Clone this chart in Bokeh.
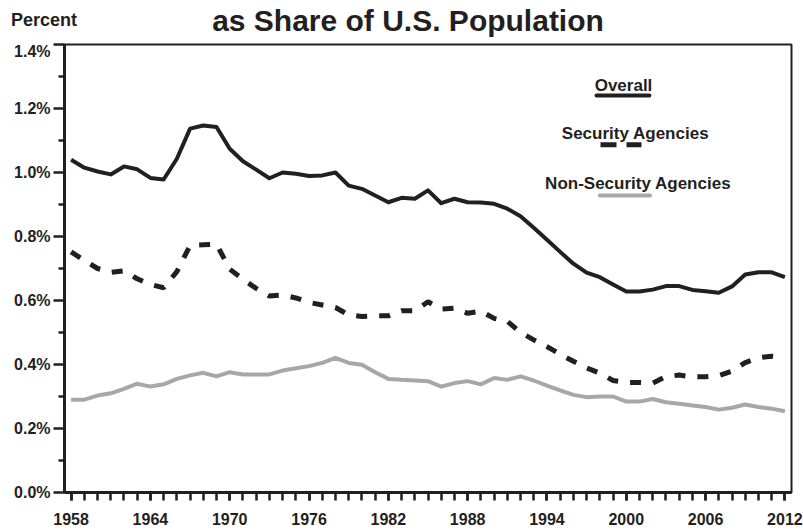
from bokeh.plotting import figure
from bokeh.layouts import column
from bokeh.models import Range1d, FixedTicker, PrintfTickFormatter, Label, Div
from bokeh.embed import file_html
from bokeh.resources import INLINE

# ---------------- data ----------------
years = [1958, 1959, 1960, 1961, 1962, 1963, 1964, 1965, 1966, 1967,
         1968, 1969, 1970, 1971, 1972, 1973, 1974, 1975, 1976, 1977,
         1978, 1979, 1980, 1981, 1982, 1983, 1984, 1985, 1986, 1987,
         1988, 1989, 1990, 1991, 1992, 1993, 1994, 1995, 1996, 1997,
         1998, 1999, 2000, 2001, 2002, 2003, 2004, 2005, 2006, 2007,
         2008, 2009, 2010, 2011, 2012]

overall = [1.040, 1.015, 1.003, 0.994, 1.019, 1.010, 0.983, 0.978, 1.043, 1.137,
           1.147, 1.142, 1.074, 1.035, 1.009, 0.982, 1.000, 0.996, 0.989, 0.991,
           1.000, 0.959, 0.949, 0.928, 0.907, 0.921, 0.918, 0.944, 0.904, 0.918,
           0.907, 0.906, 0.902, 0.887, 0.863, 0.827, 0.790, 0.752, 0.715, 0.687,
           0.673, 0.650, 0.628, 0.628, 0.634, 0.645, 0.645, 0.633, 0.629, 0.624,
           0.644, 0.681, 0.688, 0.688, 0.673]

security = [0.752, 0.725, 0.700, 0.688, 0.693, 0.668, 0.650, 0.640, 0.690, 0.772,
            0.774, 0.776, 0.698, 0.666, 0.638, 0.614, 0.617, 0.608, 0.594, 0.586,
            0.578, 0.555, 0.550, 0.552, 0.552, 0.568, 0.568, 0.596, 0.573, 0.576,
            0.560, 0.567, 0.544, 0.535, 0.500, 0.477, 0.456, 0.432, 0.410, 0.389,
            0.373, 0.350, 0.344, 0.344, 0.342, 0.362, 0.367, 0.361, 0.362, 0.365,
            0.379, 0.406, 0.421, 0.426, 0.419]

non_security = [0.290, 0.290, 0.303, 0.310, 0.324, 0.340, 0.331, 0.338, 0.355, 0.366,
                0.374, 0.363, 0.376, 0.369, 0.369, 0.369, 0.381, 0.388, 0.395, 0.405,
                0.421, 0.405, 0.399, 0.376, 0.355, 0.352, 0.350, 0.348, 0.331, 0.342,
                0.348, 0.338, 0.358, 0.352, 0.363, 0.350, 0.334, 0.319, 0.305, 0.298,
                0.300, 0.300, 0.284, 0.284, 0.292, 0.282, 0.277, 0.272, 0.267, 0.259,
                0.265, 0.275, 0.267, 0.262, 0.254]

x_label_years = [1958, 1964, 1970, 1976, 1982, 1988, 1994, 2000, 2006, 2012]
y_major_ticks = [0.0, 0.2, 0.4, 0.6, 0.8, 1.0, 1.2, 1.4]
y_minor_ticks = [0.1, 0.3, 0.5, 0.7, 0.9, 1.1, 1.3]

series_names = ["Overall", "Security Agencies", "Non-Security Agencies"]
title_text = "as Share of U.S. Population"
y_axis_title = "Percent"

# ---------------- styling ----------------
FONT = "Liberation Sans"
INK = "#231f20"
GREY = "#a7a7a9"

# header strip (chart title + y-axis caption), HTML text
header_html = (
    f'<div style="position:relative;width:803px;height:42px;overflow:hidden;'
    f'font-family:\'{FONT}\',Arial,sans-serif;font-weight:bold;color:{INK};">'
    f'<div style="position:absolute;left:0;top:6px;width:816px;text-align:center;'
    f'font-size:30px;line-height:30px;white-space:nowrap;">{title_text}</div>'
    f'<div style="position:absolute;left:11px;top:11px;font-size:18px;'
    f'line-height:18px;white-space:nowrap;">{y_axis_title}</div>'
    f'</div>'
)
header = Div(text=header_html, width=803, height=42, margin=0)

p = figure(width=803, height=490,
           x_range=Range1d(1957.5, 2012.5), y_range=Range1d(0, 1.4),
           output_backend="svg", toolbar_location=None,
           min_border_left=64, min_border_right=12,
           min_border_top=2, min_border_bottom=40, margin=0)

p.xgrid.visible = False
p.ygrid.visible = False
p.outline_line_color = INK
p.outline_line_width = 2
p.background_fill_color = "white"
p.border_fill_color = "white"

# x axis
xa = p.xaxis[0]
xa.ticker = FixedTicker(ticks=x_label_years, minor_ticks=years)
xa.axis_line_width = 3
xa.axis_line_color = INK
xa.major_tick_in = 0
xa.major_tick_out = 8
xa.minor_tick_in = 0
xa.minor_tick_out = 8
xa.major_tick_line_width = 2.5
xa.minor_tick_line_width = 2.5
xa.major_tick_line_color = INK
xa.minor_tick_line_color = INK
xa.major_label_text_font = FONT
xa.major_label_text_font_style = "bold"
xa.major_label_text_font_size = "16px"
xa.major_label_text_color = INK
xa.major_label_standoff = 12

# y axis
ya = p.yaxis[0]
ya.ticker = FixedTicker(ticks=y_major_ticks, minor_ticks=y_minor_ticks)
ya.formatter = PrintfTickFormatter(format="%.1f%%")
ya.axis_line_width = 3
ya.axis_line_color = INK
ya.major_tick_in = 0
ya.major_tick_out = 11
ya.minor_tick_in = 0
ya.minor_tick_out = 6
ya.major_tick_line_width = 2.5
ya.minor_tick_line_width = 2.5
ya.major_tick_line_color = INK
ya.minor_tick_line_color = INK
ya.major_label_text_font = FONT
ya.major_label_text_font_style = "bold"
ya.major_label_text_font_size = "16px"
ya.major_label_text_color = INK
ya.major_label_standoff = 3

# ---------------- series ----------------
p.line(years, non_security, line_color=GREY, line_width=4, line_join="round")
p.line(years, security, line_color=INK, line_width=5, line_dash="11 12")
p.line(years, overall, line_color=INK, line_width=4, line_join="round")

# ---------------- legend (text above a line sample) ----------------
LEG_FS = "17px"
p.add_layout(Label(x=1999.79, y=1.272, text=series_names[0], text_align="center",
                   text_baseline="alphabetic", text_font=FONT,
                   text_font_style="bold", text_font_size=LEG_FS, text_color=INK))
p.segment(x0=[1997.75], y0=[1.2406], x1=[2001.75], y1=[1.2406],
          line_color=INK, line_width=4, line_cap="round")

p.add_layout(Label(x=2000.70, y=1.121, text=series_names[1], text_align="center",
                   text_baseline="alphabetic", text_font=FONT,
                   text_font_style="bold", text_font_size=LEG_FS, text_color=INK))
p.segment(x0=[1998.05], y0=[1.0866], x1=[2001.15], y1=[1.0866],
          line_color=INK, line_width=5, line_dash="16 10")

p.add_layout(Label(x=2000.90, y=0.9647, text=series_names[2], text_align="center",
                   text_baseline="alphabetic", text_font=FONT,
                   text_font_style="bold", text_font_size=LEG_FS, text_color=INK))
p.segment(x0=[1998.0], y0=[0.928], x1=[2001.8], y1=[0.928],
          line_color=GREY, line_width=4, line_cap="round")

layout = column(header, p, spacing=0, margin=0)

open("out.html", "w").write(file_html(layout, INLINE))
